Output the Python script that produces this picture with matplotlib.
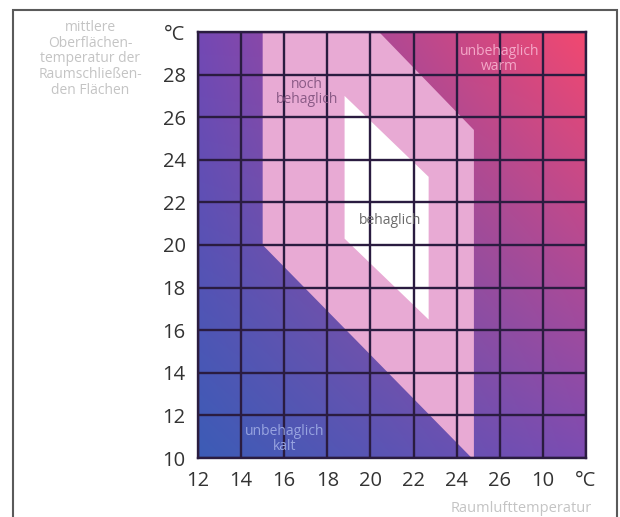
import numpy as np
import matplotlib

matplotlib.use("Agg")
import matplotlib.pyplot as plt
from matplotlib.patches import Polygon, Rectangle
from matplotlib.colors import to_rgb

# axis ticks (the original chart labels 28 as "10" and the last tick as unit)
x_ticks = [12, 14, 16, 18, 20, 22, 24, 26, 28, 30]
x_tick_labels = ["12", "14", "16", "18", "20", "22", "24", "26", "10", "°C"]
y_ticks = [10, 12, 14, 16, 18, 20, 22, 24, 26, 28, 30]
y_tick_labels = ["10", "12", "14", "16", "18", "20", "22", "24", "26", "28", "°C"]

# comfort zones: room air temperature (x) vs. surface temperature (y)
noch_x = [15.0, 20.4, 24.8, 24.8, 24.7, 15.0]
noch_y = [30.0, 30.0, 25.4, 10.0, 10.0, 20.0]
behaglich_x = [18.8, 18.8, 22.7, 22.7]
behaglich_y = [27.0, 20.3, 16.5, 23.2]

plt.rcParams.update({
    "font.family": ["Open Sans", "DejaVu Sans"],
})

fig = plt.figure(figsize=(6.2, 5.17), dpi=100)
ax = fig.add_axes([198 / 620, 59 / 517, 388 / 620, 426 / 517])

# background gradient, blue (cold) -> red (warm)
c_tl = np.array(to_rgb("#7448b4"))
c_tr = np.array(to_rgb("#f24870"))
c_bl = np.array(to_rgb("#3c5cb6"))
c_br = np.array(to_rgb("#7c4cb2"))
u = np.linspace(0, 1, 200)[None, :, None]
v = np.linspace(0, 1, 200)[:, None, None]
grad = (c_bl * (1 - u) * (1 - v) + c_br * u * (1 - v)
        + c_tl * (1 - u) * v + c_tr * u * v)
ax.imshow(grad, origin="lower", extent=(12, 30, 10, 30), aspect="auto",
          interpolation="bilinear", zorder=0)

ax.add_patch(Polygon(list(zip(noch_x, noch_y)), closed=True,
                     facecolor="#e8aad4", edgecolor="none", zorder=1))
ax.add_patch(Polygon(list(zip(behaglich_x, behaglich_y)), closed=True,
                     facecolor="white", edgecolor="none", zorder=1.5))

ax.set_xlim(12, 30)
ax.set_ylim(10, 30)
ax.set_xticks(x_ticks)
ax.set_xticklabels(x_tick_labels)
ax.set_yticks(y_ticks)
ax.set_yticklabels(y_tick_labels)
ax.tick_params(length=0, labelsize=14.5, labelcolor="#333333")
ax.tick_params(axis="x", pad=9)
ax.tick_params(axis="y", pad=9)
ax.set_axisbelow(False)
ax.grid(True, color="#2a1c40", linewidth=1.7)
for s in ax.spines.values():
    s.set_color("#2a1c40")
    s.set_linewidth(1.7)

ax.text(26.0, 28.75, "unbehaglich\nwarm", ha="center", va="center",
        fontsize=10, color="#f4a8c8", linespacing=1.0)
ax.text(17.05, 27.2, "noch\nbehaglich", ha="center", va="center",
        fontsize=10, color="#8a5a86", linespacing=1.0)
ax.text(20.9, 21.15, "behaglich", ha="center", va="center",
        fontsize=10, color="#6a6a6a")
ax.text(16.0, 10.9, "unbehaglich\nkalt", ha="center", va="center",
        fontsize=10, color="#98a4e0", linespacing=1.0)

fig.text(90 / 620, 1 - 59 / 517,
         "mittlere\nOberflächen-\ntemperatur der\nRaumschließen-\nden Flächen",
         ha="center", va="center", fontsize=10, color="#c4c4c4",
         linespacing=1.05)
fig.text(521 / 620, 1 - 509 / 517, "Raumlufttemperatur", ha="center",
         va="center", fontsize=10.5, color="#c4c4c4")

# outer frame
fig.patches.append(Rectangle((13 / 620, -0.02), 604 / 620, 0.02 + 1 - 10 / 517,
                             transform=fig.transFigure, fill=False,
                             edgecolor="#5a5a5a", linewidth=1.5))

fig.savefig("out.png", dpi=100)
plt.close(fig)
